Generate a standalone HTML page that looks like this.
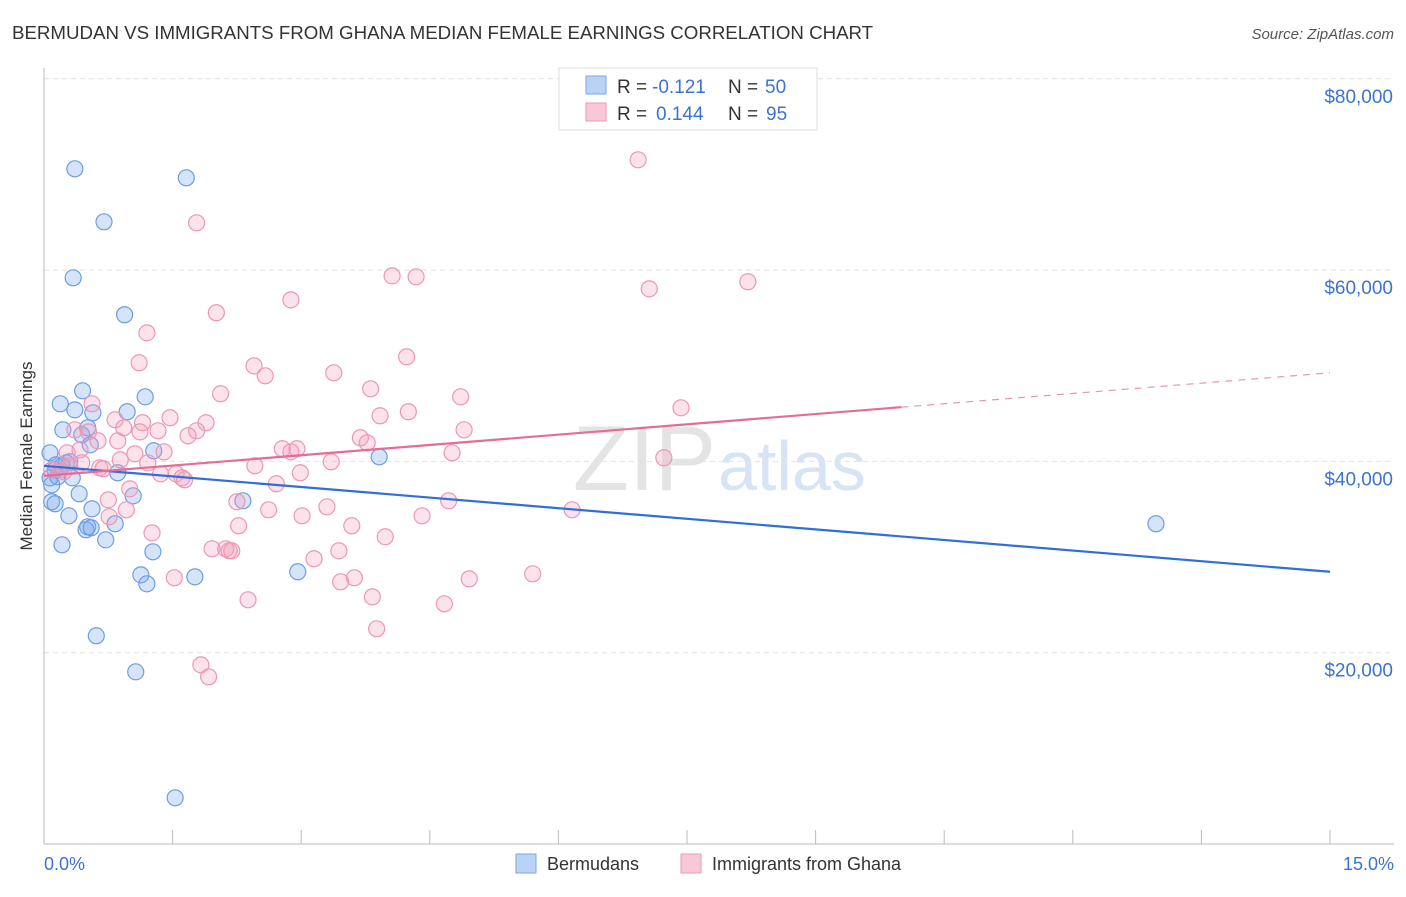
<!DOCTYPE html>
<html><head><meta charset="utf-8"><style>
body{margin:0;background:#fff;font-family:"Liberation Sans",sans-serif;}
svg text{font-family:"Liberation Sans",sans-serif;}
</style></head><body>
<svg id="chart" width="1406" height="892">
<text x="12" y="39" font-size="18.7" fill="#333">BERMUDAN VS IMMIGRANTS FROM GHANA MEDIAN FEMALE EARNINGS CORRELATION CHART</text>
<text x="1394" y="39" font-size="15" fill="#555" font-style="italic" text-anchor="end">Source: ZipAtlas.com</text>
<text x="716" y="490" font-size="92" fill="#e4e4e4" text-anchor="end" font-family="Liberation Serif">ZIP</text>
<text x="718" y="490" font-size="70" fill="#d6e4f4">atlas</text>
<g id="grid"></g>
<g id="axes"></g>
<g id="pts"></g>
<g id="trends"></g>
<text x="32" y="456" font-size="17" fill="#333" text-anchor="middle" transform="rotate(-90 32 456)">Median Female Earnings</text>
<text x="44" y="870" font-size="18" fill="#3b73d1">0.0%</text>
<text x="1394" y="870" font-size="18" fill="#3b73d1" text-anchor="end">15.0%</text>
<g>
<rect x="559" y="68" width="258" height="62" fill="#fff" stroke="#ddd"/>
<rect x="586" y="76" width="20" height="18" fill="#b9d3f5" stroke="#7aa6e6"/>
<rect x="586" y="103" width="20" height="18" fill="#f9c8d8" stroke="#ec9ab8"/>
<text x="617" y="93" font-size="19" fill="#333">R =</text>
<text x="652" y="93" font-size="19" fill="#3b73d1">-0.121</text>
<text x="728" y="93" font-size="19" fill="#333">N =</text>
<text x="765" y="93" font-size="19" fill="#3b73d1">50</text>
<text x="617" y="120" font-size="19" fill="#333">R =</text>
<text x="656" y="120" font-size="19" fill="#3b73d1">0.144</text>
<text x="728" y="120" font-size="19" fill="#333">N =</text>
<text x="766" y="120" font-size="19" fill="#3b73d1">95</text>
</g>
<g>
<rect x="516" y="854" width="20" height="19" fill="#b9d3f5" stroke="#7aa6e6"/>
<text x="547" y="870" font-size="18" fill="#333">Bermudans</text>
<rect x="681" y="854" width="20" height="19" fill="#f9c8d8" stroke="#ec9ab8"/>
<text x="712" y="870" font-size="18" fill="#333">Immigrants from Ghana</text>
</g>
</svg>
<script>
const yTicks=[20000,40000,60000,80000];
const yTickLabels=["$20,000","$40,000","$60,000","$80,000"];
const xTicks=[0,1.5,3,4.5,6,7.5,9,10.5,12,13.5,15];
const blueX=[0.36,1.66,0.70,0.34,0.94,0.45,1.18,0.19,0.36,0.57,0.97,0.22,0.51,0.44,0.54,1.28,3.91,0.07,0.30,0.21,0.13,0.86,0.16,0.33,0.09,0.41,1.04,2.32,0.09,0.13,0.56,0.29,0.51,0.49,0.83,0.55,0.72,0.21,1.27,1.13,1.76,1.20,2.96,0.61,1.07,1.53,12.97,0.07,0.14,0.26];
const blueY=[70590,69650,65050,59195,55330,47380,46750,46020,45390,45080,45190,43300,43510,42780,41730,41110,40480,40900,39960,39540,39120,38810,38390,38280,37550,36610,36400,35880,35780,35570,35040,34310,33160,32850,33480,33060,31800,31280,30550,28140,27930,27200,28460,21770,18000,4830,33480,38280,39640,39850];
const pinkX=[6.93,1.78,4.06,4.34,7.06,8.21,2.88,2.01,1.20,1.11,4.23,2.45,2.58,3.38,2.06,3.81,4.86,7.43,0.56,4.25,3.92,0.83,1.47,1.89,1.15,0.93,1.78,1.33,1.68,4.90,0.36,0.52,3.69,0.86,0.63,3.77,2.78,2.95,0.42,1.06,2.88,1.40,4.76,0.27,7.23,2.46,3.35,0.65,0.69,1.21,0.09,0.23,1.54,2.99,1.36,1.61,1.64,1.00,2.71,4.72,2.25,3.30,3.59,0.96,2.62,3.01,0.76,4.41,2.27,1.26,6.16,3.98,1.96,2.12,2.16,2.19,3.15,3.44,1.52,3.46,3.62,4.96,5.70,2.38,3.83,4.67,3.88,1.83,1.92,1.12,0.44,0.30,0.19,0.89,0.75];
const pinkY=[71530,64945,59400,59300,58040,58780,56890,55540,53440,50310,50940,49990,48950,49260,47070,47590,46750,45600,46020,45190,44770,44350,44560,44040,44040,43510,43200,43200,42680,43300,43300,43090,42470,42150,42150,41940,41320,41320,41210,40790,41000,41000,40900,40900,40380,39540,39960,39330,39230,39850,39120,38910,38700,38810,38700,38290,38080,37130,37660,35880,35780,35250,33270,34940,34940,34310,34210,34310,33270,32530,34940,32120,30860,30860,30650,30650,29820,30650,27830,27410,27830,27720,28250,25530,25840,25110,22500,18730,17480,43090,39850,39540,39120,40170,35980];
const blueTrend=[39540,28460];
const pinkTrend=[38490,49260];
const pinkSolidEnd=10;
const NS="http://www.w3.org/2000/svg";
const X=v=>44+v/15*1286;
const Y=v=>844-v/20000*191.3;
function mk(tag,attrs,parent){const e=document.createElementNS(NS,tag);for(const k in attrs)e.setAttribute(k,attrs[k]);parent.appendChild(e);return e;}
const grid=document.getElementById('grid'),axes=document.getElementById('axes'),pts=document.getElementById('pts'),tr=document.getElementById('trends');
yTicks.forEach((t,i)=>{
 const l=mk('line',{x1:44,x2:1394,y1:Y(t),y2:Y(t),stroke:'#e2e2e2','stroke-dasharray':'5,4'},grid);
 
 
 const tx=mk('text',{x:1393,y:Y(t)+24,'font-size':19,fill:'#3b73d1','text-anchor':'end'},grid);
 tx.textContent=yTickLabels[i];
 
 
});
const ax=mk('line',{x1:44,x2:1394,y1:844,y2:844,stroke:'#bbb'},axes);


const ay=mk('line',{x1:44,x2:44,y1:68,y2:844,stroke:'#bbb'},axes);


xTicks.forEach(t=>{
 const l=mk('line',{x1:X(t),x2:X(t),y1:830,y2:844,stroke:'#bbb'},axes);
 
 
});
blueX.forEach((x,i)=>{
 const c=mk('circle',{cx:X(x),cy:Y(blueY[i]),r:8,fill:'rgba(120,165,235,0.3)',stroke:'#6c9de2','stroke-width':1.2},pts);
 
 
});
pinkX.forEach((x,i)=>{
 const c=mk('circle',{cx:X(x),cy:Y(pinkY[i]),r:8,fill:'rgba(244,160,190,0.3)',stroke:'#eb97b6','stroke-width':1.2},pts);
 
 
});
const bl=mk('line',{x1:X(0),y1:Y(blueTrend[0]),x2:X(15),y2:Y(blueTrend[1]),stroke:'#2f6fd6','stroke-width':2.2},tr);


const pm=pinkTrend[0]+(pinkTrend[1]-pinkTrend[0])*pinkSolidEnd/15;
const pl=mk('line',{x1:X(0),y1:Y(pinkTrend[0]),x2:X(pinkSolidEnd),y2:Y(pm),stroke:'#e46c98','stroke-width':2.2},tr);


const pd=mk('line',{x1:X(pinkSolidEnd),y1:Y(pm),x2:X(15),y2:Y(pinkTrend[1]),stroke:'#e895b4','stroke-width':1.2,'stroke-dasharray':'7,6'},tr);


</script>
</body></html>
